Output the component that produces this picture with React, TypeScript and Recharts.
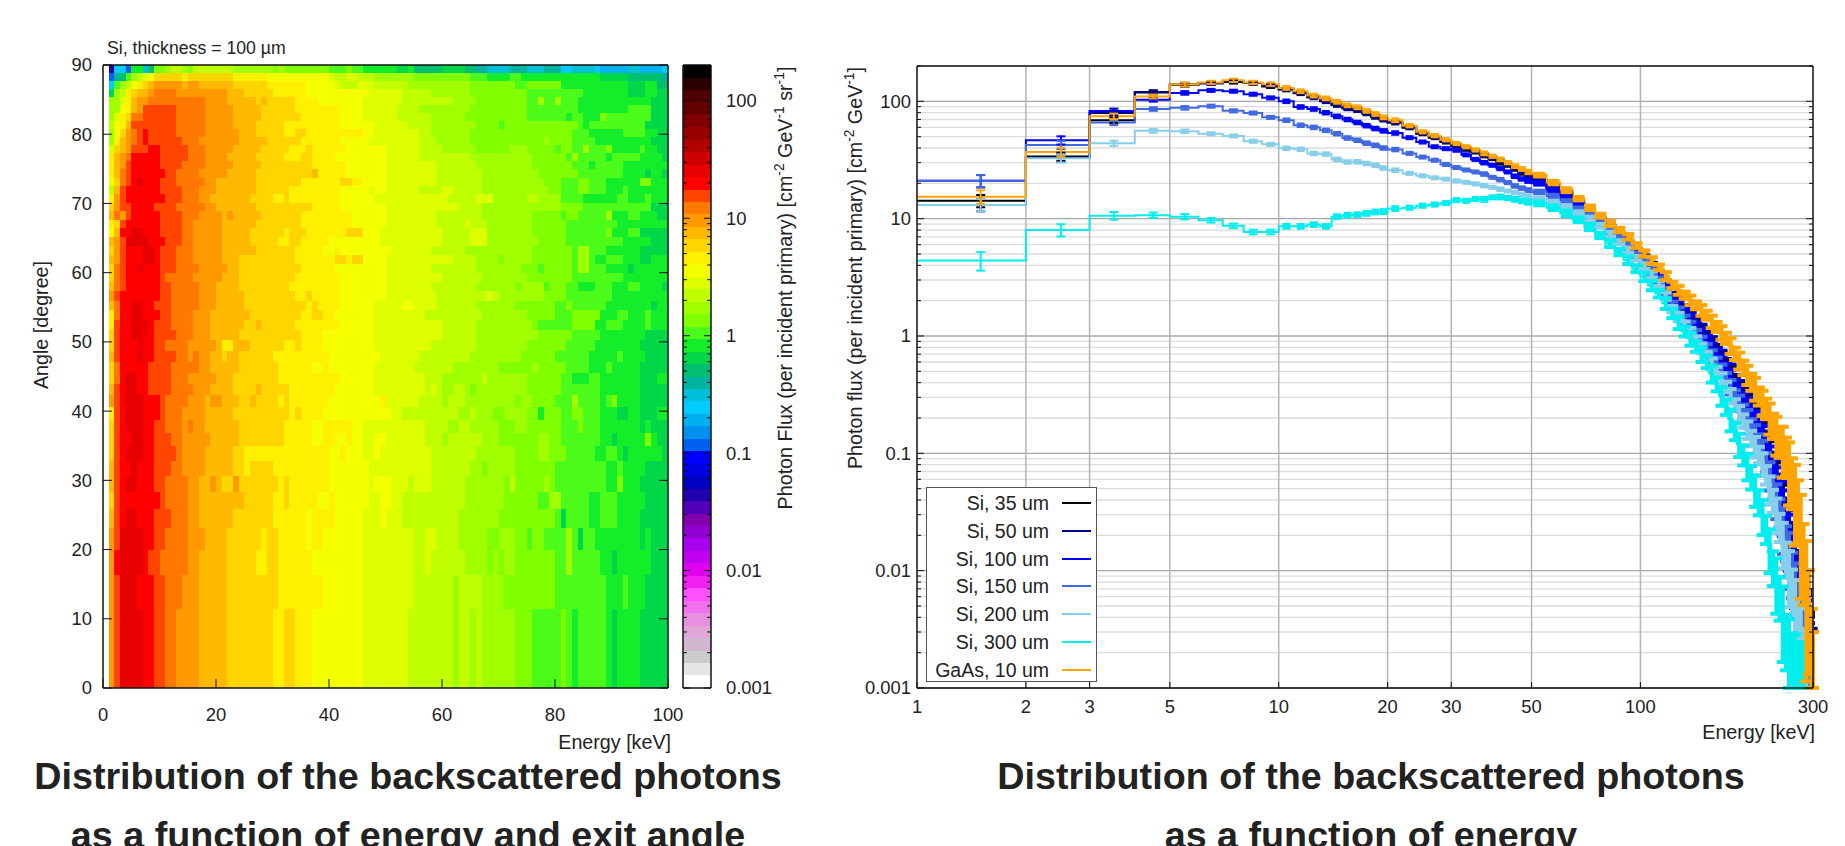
import React from 'react';
import { ComposedChart, Line, ErrorBar, XAxis, YAxis, ReferenceArea, ReferenceLine, Legend } from 'recharts';

// ---- left panel: 50 rows (equal solid angle), bottom to top, each row is [startEnergy, level, ...]
const angleEdges = [0, 11.48, 16.26, 19.95, 23.07, 25.84, 28.36, 30.68, 32.86, 34.92, 36.87, 38.74, 40.54, 42.27, 43.95, 45.57, 47.16, 48.7, 50.21, 51.68, 53.13, 54.55, 55.94, 57.32, 58.67, 60, 61.31, 62.61, 63.9, 65.16, 66.42, 67.67, 68.9, 70.12, 71.34, 72.54, 73.74, 74.93, 76.11, 77.29, 78.46, 79.63, 80.79, 81.95, 83.11, 84.26, 85.41, 86.56, 87.71, 88.85, 90];

const heatRows = [
  [0,0,1,37,2,39,3,41,7,40,9,39,11,38,13,37,17,36,22,35,30,34,32,35,34,34,37,33,46,32,54,31,62,30,63,31,65,30,66,31,67,30,73,29,76,28,81,29,82,28,83,27,84,28,89,27,90,26,91,27,95,26],
  [0,0,1,37,2,39,3,41,6,40,9,39,11,38,14,37,17,36,22,35,31,34,39,33,46,32,55,31,62,30,63,31,67,30,71,29,80,28,89,27,92,28,93,27,96,26],
  [0,0,1,37,2,40,3,41,7,40,8,39,10,38,15,37,17,36,22,35,27,34,29,35,31,34,37,33,46,32,55,31,57,32,58,31,64,30,68,29,69,30,70,29,71,30,73,29,80,28,82,30,83,28,88,27,90,26,91,27,97,26],
  [0,0,1,37,2,39,3,41,7,40,9,39,11,38,15,37,18,36,22,35,28,34,29,35,31,34,36,33,37,34,39,33,46,32,55,31,57,32,59,31,63,30,68,29,70,30,73,29,75,28,76,29,78,28,82,30,83,28,84,26,85,28,87,27,95,26,96,27,97,26],
  [0,0,1,36,2,39,3,40,4,41,6,40,9,39,12,38,15,37,17,36,23,35,30,34,36,33,37,34,41,33,46,32,49,33,50,32,53,31,63,30,70,29,80,28,81,26,82,28,86,27,88,28,91,27,95,26],
  [0,0,1,35,2,39,3,40,10,39,11,38,15,37,17,36,25,35,30,34,32,35,33,34,38,33,40,34,41,33,47,32,49,33,51,32,53,31,64,30,71,29,77,28,79,30,81,28,86,27,88,28,91,27,96,26],
  [0,0,1,36,2,39,3,40,4,41,6,40,9,39,11,38,15,37,17,36,19,37,20,36,21,35,23,37,24,35,31,34,32,35,33,34,40,33,47,32,48,33,51,32,54,31,55,32,58,31,64,30,71,29,72,31,73,29,78,30,79,29,80,28,89,27,91,29,92,27,95,26],
  [0,0,1,36,2,39,3,40,5,41,6,40,9,39,12,38,14,37,18,36,23,35,25,34,26,35,30,34,40,33,47,32,58,31,65,30,67,29,68,30,73,29,80,28,89,27,91,28,92,27,96,26],
  [0,0,1,35,2,39,3,40,4,41,7,40,9,39,13,38,14,37,18,36,23,35,25,34,40,33,42,34,43,33,46,32,48,33,49,32,58,31,66,30,73,29,77,30,79,29,82,28,87,27,89,28,91,27,92,26,93,27,99,26],
  [0,0,1,35,2,39,3,40,5,41,7,40,9,39,12,38,14,37,19,36,24,35,32,34,37,33,39,34,41,33,43,34,44,33,46,32,48,33,50,32,57,31,60,30,61,31,67,30,70,29,77,30,79,29,81,28,88,27,90,26,91,27,96,29,97,27,98,26],
  [0,0,1,35,2,39,3,40,4,41,7,40,9,39,11,38,14,37,15,38,16,37,18,36,24,35,32,34,37,33,39,34,44,33,46,32,57,31,61,30,63,31,65,30,70,29,73,30,75,29,81,28,84,29,85,28,88,27,95,26,96,27,97,26],
  [0,0,1,34,2,39,3,40,4,41,7,40,10,39,11,38,14,37,18,36,23,35,33,34,34,35,35,34,39,33,51,32,53,31,63,30,65,31,66,30,69,29,71,30,75,29,77,27,78,29,81,28,83,29,85,28,88,27,91,26,93,27,95,26,98,27],
  [0,0,1,37,2,39,3,40,4,41,7,40,10,39,11,38,15,37,18,36,19,37,21,36,24,35,26,36,27,35,31,34,32,35,33,34,40,33,49,34,50,32,56,31,60,30,61,31,64,30,73,29,74,30,76,29,80,28,83,30,84,28,88,27,89,28,90,29,91,27,95,26],
  [0,0,1,36,2,39,3,40,4,41,6,40,8,39,12,38,16,37,19,36,23,35,27,36,28,35,33,34,41,33,48,32,57,31,58,32,59,31,60,30,62,31,64,30,65,29,66,30,75,29,81,28,88,27,95,26],
  [0,0,1,35,2,38,3,40,4,41,6,40,8,39,12,38,15,37,20,36,23,35,31,34,42,33,48,32,57,31,60,30,67,31,68,30,75,29,81,28,83,27,86,28,88,27,95,26,98,27],
  [0,0,1,35,2,38,3,40,8,39,12,38,17,37,19,36,24,35,31,34,37,33,39,34,40,33,48,32,55,31,62,30,70,29,76,30,77,29,82,28,86,27,89,28,90,27,95,26],
  [0,0,1,36,2,39,3,40,6,41,7,40,9,39,13,38,15,37,16,38,17,37,19,36,21,35,22,36,24,35,30,34,40,33,49,32,56,31,65,30,74,29,80,28,86,27,91,28,92,27,96,26],
  [0,0,1,35,2,39,3,40,6,41,7,40,9,39,11,38,15,37,20,36,21,34,23,36,26,35,32,34,34,35,35,34,39,33,48,32,58,31,66,30,75,29,82,28,87,27,95,26],
  [0,0,1,35,2,39,3,40,5,41,7,40,9,39,13,38,16,37,19,36,24,35,35,34,39,33,48,32,60,31,66,30,77,29,83,28,88,27,96,26],
  [0,0,1,34,2,39,3,40,5,41,8,40,9,39,12,38,16,37,19,36,25,35,27,36,28,35,34,34,42,33,48,32,60,31,66,30,76,29,77,28,83,29,87,27,89,28,92,27,96,28,97,27],
  [0,0,1,34,2,38,3,40,5,41,7,40,10,39,12,38,16,37,19,36,26,35,35,34,37,35,39,34,41,33,48,32,57,31,67,30,75,29,80,28,83,29,88,27,91,28,93,27,96,28,97,27],
  [0,0,1,36,2,38,3,40,5,41,7,40,9,39,12,38,17,37,20,36,25,35,36,34,37,35,38,34,42,33,48,32,53,33,55,32,59,31,66,30,73,29,80,28,82,29,83,28,89,27,97,26,98,27],
  [0,0,1,37,2,39,3,40,10,39,12,38,17,37,20,36,25,35,34,34,36,35,37,34,42,33,50,32,59,31,68,32,69,31,70,30,78,29,82,28,90,27],
  [0,0,1,36,2,38,3,39,4,40,10,39,12,38,17,37,20,36,24,35,33,34,42,33,50,32,58,31,66,30,73,29,74,30,78,28,79,29,82,28,84,27,87,28,90,27,93,28,95,27,99,26],
  [0,0,1,35,2,38,3,39,4,40,10,39,11,38,16,37,21,36,24,35,34,34,42,33,50,32,60,31,67,30,75,29,83,28,92,27],
  [0,0,1,35,2,38,3,39,4,40,6,41,7,40,10,39,13,38,17,37,22,36,24,35,35,34,41,33,50,32,58,31,66,30,74,29,77,28,78,29,83,28,84,30,86,28,89,27,93,26,94,27],
  [0,0,1,36,2,37,3,39,4,40,7,41,9,40,10,39,13,38,16,37,21,36,24,35,34,34,41,35,43,34,44,35,46,33,50,32,62,31,66,30,70,29,71,30,76,29,83,28,84,30,86,28,87,27,89,28,92,27,95,26,97,27],
  [0,0,1,35,2,37,3,39,4,40,7,41,9,40,10,39,13,38,16,37,21,36,27,35,34,34,39,33,41,34,42,33,51,32,58,31,64,30,76,29,83,28,84,30,86,28,89,27,95,26],
  [0,0,1,36,2,37,3,39,4,41,8,40,11,39,14,38,16,37,21,36,26,35,31,34,33,35,35,34,40,33,49,32,60,31,65,32,68,30,77,29,82,28,92,27,97,26],
  [0,0,1,33,2,36,3,40,5,41,7,40,10,39,14,38,16,37,21,36,26,35,32,34,33,35,36,34,43,35,46,33,49,32,60,31,65,32,68,30,76,29,82,28,89,29,90,27,93,28,95,26],
  [0,0,1,34,2,35,3,39,4,40,10,39,14,38,16,37,21,36,27,35,35,34,44,33,50,32,59,31,64,32,65,31,68,30,76,29,82,28,91,27],
  [0,0,1,36,2,38,3,37,4,39,5,40,10,39,14,38,17,37,21,36,22,37,23,36,28,35,35,34,44,33,50,32,59,31,67,30,76,29,81,28,82,29,84,28,89,30,90,27,93,28,95,27,98,26],
  [0,0,1,35,2,37,3,39,5,40,9,39,13,38,18,37,20,36,27,35,37,34,42,33,50,32,63,31,67,30,81,29,85,28,97,26],
  [0,0,1,34,2,37,3,39,4,40,11,39,14,38,17,37,19,36,26,35,30,34,32,35,33,34,42,33,48,32,61,31,66,32,69,30,75,31,77,30,81,28,85,27,91,28,93,27,96,28,97,27],
  [0,0,1,31,2,36,3,39,4,40,10,39,14,38,17,37,20,36,27,35,33,34,42,33,47,32,48,33,50,32,56,31,60,32,62,31,67,30,79,29,81,28,84,29,86,28,89,27,92,28,93,27],
  [0,0,1,33,2,35,3,38,4,39,5,40,6,41,7,40,10,39,13,38,18,37,20,36,27,35,35,34,42,35,44,34,46,33,50,32,59,31,67,30,78,29,81,28,84,29,86,28,89,27,95,29,97,27],
  [0,0,1,34,2,36,3,38,4,39,5,40,11,39,13,38,17,37,22,36,27,35,37,36,38,34,43,33,50,32,59,31,67,30,77,29,84,28,92,27,96,26,97,27,99,26],
  [0,0,1,34,2,36,3,37,4,39,5,40,10,39,14,38,18,37,23,36,28,35,37,34,43,33,50,32,59,31,66,30,76,29,83,28,86,27,87,28,92,27],
  [0,0,1,34,2,36,3,37,4,38,5,40,10,39,15,38,18,37,22,36,27,35,32,34,35,35,37,34,41,33,50,32,56,31,65,30,76,29,82,28,83,30,84,28,89,27,90,28,95,27,99,26],
  [0,0,1,32,2,35,3,36,4,37,5,39,8,40,10,39,15,38,18,37,23,36,28,35,33,34,36,35,37,34,43,33,50,32,56,31,60,30,66,29,72,30,75,29,80,28,81,29,83,28,85,30,86,28,89,29,90,27,95,28,96,27,98,26],
  [0,0,1,30,2,34,3,36,4,37,5,38,6,39,7,40,8,39,14,38,17,37,24,36,29,35,35,34,42,33,47,32,56,31,59,30,65,29,78,30,79,29,83,28,87,27,97,26],
  [0,0,1,30,2,33,3,35,4,37,5,38,6,39,7,40,8,39,13,38,18,37,24,36,27,35,32,34,34,35,36,34,46,33,48,32,56,31,58,30,65,29,83,28,86,27,92,28,96,27,98,26],
  [0,0,1,31,2,33,3,34,4,36,5,39,13,38,18,37,23,36,27,35,32,34,42,33,48,32,54,31,58,30,66,29,70,28,71,29,84,28,85,27,86,28,96,26],
  [0,0,1,30,2,32,3,34,4,35,5,38,7,39,13,38,18,37,23,36,28,35,35,34,42,33,46,32,52,31,58,30,64,29,75,28,82,27,83,28,85,27,88,29,89,28,97,26],
  [0,0,1,30,3,33,4,34,5,36,6,37,7,39,13,38,18,37,23,36,28,35,34,34,42,33,46,32,52,31,56,30,65,29,75,28,84,27,93,28,97,26],
  [0,0,1,30,3,32,4,34,5,36,6,37,8,38,18,37,22,36,27,35,28,36,29,35,34,34,38,33,46,32,53,31,62,30,66,29,75,28,77,30,78,28,80,30,81,28,84,27,97,26],
  [0,0,1,26,2,30,3,31,4,34,5,35,6,36,8,37,9,38,13,37,22,36,25,35,30,34,36,33,47,32,53,31,58,30,65,29,75,28,85,27,93,26,96,27,98,26],
  [0,0,1,22,2,28,3,30,4,31,5,33,6,34,7,35,8,36,9,37,14,36,15,37,17,36,23,35,29,34,36,33,41,32,42,31,45,32,48,31,54,30,65,29,73,28,75,29,81,27,93,26,96,27,98,25],
  [0,0,1,19,2,24,3,25,4,28,5,30,6,31,7,32,8,33,9,35,14,34,15,35,23,34,29,33,40,32,41,31,43,32,45,31,48,30,55,29,65,28,68,27,72,28,74,27,88,26,93,25,99,24],
  [0,0,1,15,2,22,4,19,5,27,7,23,8,25,9,29,11,30,12,31,14,30,15,29,16,31,23,30,30,29,31,30,32,29,40,28,43,29,44,28,46,27,52,26,54,27,55,25,60,26,64,25,66,24,68,23,72,24,75,23,78,24,81,22,83,23,87,22,88,21,93,23,95,21,99,22],
];

const levelEdges = [0.001, 0.00128, 0.00163, 0.00208, 0.00266, 0.00339, 0.00433, 0.00553, 0.00706, 0.00902, 0.0115, 0.0147, 0.0188, 0.024, 0.0306, 0.0391, 0.0499, 0.0637, 0.0813, 0.104, 0.133, 0.169, 0.216, 0.276, 0.352, 0.449, 0.574, 0.733, 0.935, 1.19, 1.52, 1.95, 2.48, 3.17, 4.05, 5.17, 6.6, 8.43, 10.8, 13.7, 17.5, 22.4, 28.6, 36.5, 46.6, 59.4, 75.9, 96.9, 124, 158, 202];
const levelColors = ['#ffffff', '#e6e6e6', '#cccccc', '#d0b8d0', '#e0a8d8', '#e890e0', '#f070f0', '#ff50ff', '#f020f0', '#e000f0', '#c000f0', '#a800f0', '#9000d0', '#8000b0', '#5000b8', '#2000b0', '#0000c0', '#0000e0', '#0000ff', '#0060f0', '#0090f0', '#00b0f0', '#00ccff', '#00c0d8', '#00b4a0', '#00c070', '#00d84a', '#14ee2a', '#4cfb19', '#7fff00', '#a0ff00', '#c0ff00', '#ddff00', '#f4ff00', '#fff000', '#ffd500', '#ffb900', '#ff9900', '#ff7800', '#ff4500', '#ff0000', '#e60000', '#cc0000', '#b00000', '#990000', '#800000', '#650000', '#500000', '#2a0000', '#000000'];

const heatXTicks = [0, 20, 40, 60, 80, 100];
const heatYTicks = [0, 10, 20, 30, 40, 50, 60, 70, 80, 90];
const barMajor = [0.001, 0.01, 0.1, 1, 10, 100];
const barMinor = [0.002, 0.003, 0.004, 0.005, 0.006, 0.007, 0.008, 0.009, 0.02, 0.03, 0.04, 0.05, 0.06, 0.07, 0.08, 0.09, 0.2, 0.3, 0.4, 0.5, 0.6, 0.7, 0.8, 0.9, 2, 3, 4, 5, 6, 7, 8, 9, 20, 30, 40, 50, 60, 70, 80, 90, 200];

// ---- right panel: lower edge of each energy bin and the flux read per bin
const energies = [1, 2, 3, 4, 5, 6, 7, 8, 9, 10, 11, 12, 13, 14, 15, 16, 17, 18, 19, 20, 22, 24, 26, 28, 30, 32, 34, 36, 38, 40, 42, 44, 46, 48, 50, 55, 60, 65, 70, 75, 80, 85, 90, 95, 100, 105, 110, 115, 120, 125, 130, 135, 140, 145, 150, 155, 160, 165, 170, 175, 180, 185, 190, 195, 200, 205, 210, 215, 220, 225, 230, 235, 240, 245, 250, 255, 260, 265, 270, 275, 280, 285, 290, 295, 300];

const si35 = [14.2, 33.8, 69, 119, 139, 143, 146, 143, 134, 126, 117, 109, 101, 94, 88, 85, 79, 74, 70, 66, 59.5, 53, 49, 45, 41.5, 39, 37, 34.5, 32.5, 30, 28.5, 26.5, 24.5, 22.5, 21.5, 18.3, 16, 13.4, 11.2, 9.6, 8.2, 7.1, 6.1, 5.2, 4.55, 3.85, 3.3, 2.7, 2.15, 1.95, 1.68, 1.47, 1.3, 1.1, 0.98, 0.85, 0.75, 0.65, 0.56, 0.48, 0.41, 0.35, 0.31, 0.27, 0.235, 0.2, 0.175, 0.15, 0.125, 0.1, 0.079, 0.063, 0.05, 0.038, 0.029, 0.022, 0.017, 0.012, 0.0091, 0.0067, 0.005, 0.0035, 0.0024, 0.0016, null];
const si50 = [13.1, 33, 79.5, 120, 138, 142, 148, 143, 136, 127, 118, 108, 100, 93, 87, 84, 79, 74, 70, 66, 60, 53.5, 49.5, 45.5, 42, 39.5, 37.5, 35, 33, 31, 29, 27, 25, 23, 21, 18.5, 16.4, 13.6, 11.3, 9.7, 8.3, 7.2, 6.2, 5.3, 4.6, 3.95, 3.35, 2.75, 2.2, 1.98, 1.72, 1.5, 1.32, 1.14, 1.0, 0.88, 0.77, 0.67, 0.58, 0.5, 0.42, 0.36, 0.32, 0.28, 0.245, 0.21, 0.18, 0.155, 0.13, 0.105, 0.083, 0.066, 0.052, 0.04, 0.031, 0.024, 0.018, 0.013, 0.0098, 0.0072, 0.0054, 0.0038, 0.0026, 0.0017, null];
const si100 = [21, 46.6, 82.6, 103, 118, 124, 122, 115, 107, 100, 89.5, 86, 80, 74.5, 70, 66, 62, 58.6, 56, 53.7, 49, 45, 41, 39.5, 38.3, 35, 32, 30, 28.5, 26.8, 25, 23, 21.8, 21, 20, 17.5, 15.3, 13.2, 11.2, 9.5, 8.2, 7, 6, 5.1, 4.4, 3.75, 3.2, 2.6, 2.05, 1.85, 1.6, 1.4, 1.22, 1.05, 0.93, 0.81, 0.71, 0.61, 0.53, 0.45, 0.38, 0.33, 0.29, 0.25, 0.22, 0.19, 0.165, 0.14, 0.115, 0.09, 0.072, 0.057, 0.045, 0.034, 0.026, 0.02, 0.015, 0.0105, 0.0079, 0.0058, 0.0044, 0.0031, 0.0021, null, null];
const si150 = [21, 42.5, 66, 86, 88, 91, 83, 79.5, 73, 69, 62.5, 60, 56.6, 53, 48.7, 46.6, 44, 42.2, 40, 38.8, 36, 33.5, 31.5, 29, 27.3, 26, 25, 24, 22.5, 21.5, 20.3, 19, 18.2, 17.5, 16.9, 15.5, 13.9, 12.1, 10.7, 9.2, 7.9, 6.8, 5.8, 4.9, 4.25, 3.6, 3, 2.4, 1.85, 1.62, 1.4, 1.22, 1.05, 0.9, 0.79, 0.68, 0.6, 0.51, 0.44, 0.37, 0.31, 0.27, 0.23, 0.2, 0.17, 0.145, 0.125, 0.105, 0.085, 0.066, 0.052, 0.041, 0.032, 0.024, 0.018, 0.014, 0.01, 0.0072, 0.0052, 0.0038, 0.0028, 0.002, 0.0014, null, null];
const si200 = [13.1, 32.7, 44, 56, 55.6, 53, 50.7, 45.7, 43, 39.8, 39, 36, 35.5, 32, 30.4, 30.5, 29.5, 28.5, 27, 25.9, 24.3, 23.2, 22.3, 21.7, 21, 20.4, 19.8, 19.1, 18.5, 17.8, 17.2, 16.7, 16.1, 15.4, 14.8, 13.8, 12.6, 11.2, 10, 8.7, 7.4, 6.3, 5.4, 4.6, 3.95, 3.35, 2.8, 2.2, 1.7, 1.46, 1.25, 1.08, 0.93, 0.79, 0.68, 0.58, 0.5, 0.43, 0.37, 0.31, 0.26, 0.22, 0.19, 0.16, 0.135, 0.115, 0.098, 0.082, 0.066, 0.05, 0.04, 0.031, 0.024, 0.018, 0.013, 0.0098, 0.0072, 0.0052, 0.0038, 0.0028, 0.002, 0.0014, null, null, null];
const si300 = [4.4, 8, 10.6, 10.7, 10.4, 9.7, 8.7, 7.7, 7.7, 8.6, 8.6, 8.9, 8.6, 10.4, 10.7, 10.8, 11.1, 11.4, 11.5, 12.2, 12.4, 12.9, 13.2, 13.6, 14.4, 14.2, 14.7, 14.6, 15.2, 15.3, 15, 14.6, 14.2, 13.9, 13.5, 12.4, 11.1, 9.8, 8.5, 7.2, 6.15, 5.2, 4.43, 3.75, 3.2, 2.7, 2.3, 1.9, 1.56, 1.3, 1.1, 0.95, 0.82, 0.7, 0.605, 0.48, 0.39, 0.31, 0.25, 0.195, 0.155, 0.12, 0.098, 0.079, 0.0635, 0.05, 0.039, 0.03, 0.0231, 0.016, 0.011, 0.0085, 0.0063, 0.0045, 0.0028, 0.0022, 0.0018, 0.0015, 0.0013, 0.0012, 0.0011, null, null, null, null];
const gaas10 = [15.4, 37, 74.5, 110, 139, 145, 151, 145, 140, 130, 122, 112, 106, 99, 92.5, 89, 83, 78, 73, 69, 62, 55, 51, 47, 43.7, 41, 38.5, 36, 34, 32, 30, 28, 26.5, 25, 23.5, 20.3, 17.5, 14.8, 12.4, 10.6, 9.1, 8, 7, 5.9, 5.06, 4.4, 3.85, 3.25, 2.72, 2.46, 2.23, 2.02, 1.83, 1.66, 1.51, 1.33, 1.2, 1.07, 0.96, 0.83, 0.71, 0.62, 0.54, 0.47, 0.408, 0.36, 0.31, 0.275, 0.244, 0.205, 0.175, 0.15, 0.13, 0.115, 0.1, 0.08, 0.062, 0.048, 0.038, 0.025, 0.015, 0.0095, 0.0057, 0.0024, 0.0016];

// relative statistical error read per bin (half height of the error bars)
const relErr = [0.12, 0.08, 0.05, 0.035, 0.035, 0.03, 0.03, 0.03, 0.03, 0.025, 0.025, 0.025, 0.025, 0.025, 0.025, 0.025, 0.025, 0.025, 0.025, 0.025, 0.02, 0.02, 0.02, 0.02, 0.02, 0.02, 0.02, 0.025, 0.02, 0.025, 0.02, 0.025, 0.025, 0.03, 0.025, 0.03, 0.035, 0.03, 0.04, 0.035, 0.045, 0.04, 0.05, 0.045, 0.055, 0.06, 0.05, 0.07, 0.06, 0.08, 0.065, 0.085, 0.07, 0.095, 0.08, 0.11, 0.09, 0.12, 0.1, 0.14, 0.11, 0.15, 0.13, 0.17, 0.15, 0.2, 0.16, 0.22, 0.18, 0.27, 0.22, 0.33, 0.27, 0.42, 0.33, 0.5, 0.42, 0.6, 0.5, 0.7, 0.6, 0.8, 0.7, 0.88, 0.8];

const seriesNames = ['Si, 35 um', 'Si, 50 um', 'Si, 100 um', 'Si, 150 um', 'Si, 200 um', 'Si, 300 um', 'GaAs, 10 um'];
const seriesValues = [si35, si50, si100, si150, si200, si300, gaas10];
const seriesColors = ['#000000', '#00008b', '#0000ff', '#4169e1', '#87ceeb', '#00eeee', '#ffa500'];
const seriesErrScale = [1, 1, 1, 1, 1, 1.5, 1.1];

// error bars get heavier with energy: [from, to, cap half width, stroke]
const errorBands = [
  [1, 10, 4.5, 2],
  [10, 50, 4, 3],
  [50, 301, 6, 4],
];

const energyTicks = [1, 2, 3, 5, 10, 20, 30, 50, 100, 300];
const gridEnergies = [2, 3, 5, 10, 20, 30, 50, 100];
const fluxMajor = [0.001, 0.01, 0.1, 1, 10, 100];
const fluxMinor = [0.002, 0.003, 0.004, 0.005, 0.006, 0.007, 0.008, 0.009, 0.02, 0.03, 0.04, 0.05, 0.06, 0.07, 0.08, 0.09, 0.2, 0.3, 0.4, 0.5, 0.6, 0.7, 0.8, 0.9, 2, 3, 4, 5, 6, 7, 8, 9, 20, 30, 40, 50, 60, 70, 80, 90, 200];

const FONT = '"Liberation Sans", Arial, sans-serif';
const TICK_FONT = 18.4;
const LABEL_FONT = 19.7;
const FLUX_MIN = 0.001;

type Side = 'left' | 'right' | 'bottom' | 'top';

// inward tick marks, recharts only draws them outward
const inwardTick = (side: Side, majors: number[], majorLen: number, minorLen: number, gap: number | null) => (p: any) => {
  const v = p.payload.value;
  const major = majors.includes(v);
  const len = major ? majorLen : minorLen;
  const dx = side === 'left' ? len : side === 'right' ? -len : 0;
  const dy = side === 'bottom' ? -len : side === 'top' ? len : 0;
  let label = null;
  if (major && gap !== null) {
    const tx = side === 'left' ? p.x - gap : side === 'right' ? p.x + gap : p.x;
    const ty = side === 'bottom' ? p.y + gap : p.y;
    const anchor = side === 'left' ? 'end' : side === 'right' ? 'start' : 'middle';
    label = (
      <text x={tx} y={ty} dy="0.35em" textAnchor={anchor} fontSize={TICK_FONT} fontFamily={FONT} fill="#222">
        {String(v)}
      </text>
    );
  }
  return (
    <g>
      <line x1={p.x} y1={p.y} x2={p.x + dx} y2={p.y + dy} stroke="#111" strokeWidth={1} />
      {label}
    </g>
  );
};

const axisLine = { stroke: '#111', strokeWidth: 1.5 };
const noTick = () => <g />;

const HeatChart = () => {
  const areas: React.ReactNode[] = [];
  heatRows.forEach((row, k) => {
    for (let i = 0; i < row.length; i += 2) {
      const end = i + 2 < row.length ? row[i + 2] : 100;
      areas.push(
        <ReferenceArea
          key={`${k}-${i}`}
          x1={row[i]}
          x2={end}
          y1={angleEdges[k]}
          y2={angleEdges[k + 1]}
          fill={levelColors[row[i + 1]]}
          fillOpacity={1}
          stroke="none"
        />
      );
    }
  });
  return (
    <ComposedChart width={700} height={740} margin={{ top: 64, right: 31, bottom: 51, left: 102 }} data={[]}>
      {areas}
      <XAxis type="number" dataKey="x" domain={[0, 100]} ticks={heatXTicks} interval={0} height={1} axisLine={axisLine} tickLine={false} tickSize={0} tickMargin={0} allowDataOverflow tick={inwardTick('bottom', heatXTicks, 9, 9, 27)} />
      <XAxis xAxisId="top" orientation="top" type="number" domain={[0, 100]} ticks={heatXTicks} interval={0} height={1} axisLine={axisLine} tickLine={false} tickSize={0} tickMargin={0} allowDataOverflow tick={inwardTick('top', heatXTicks, 9, 9, null)} />
      <YAxis type="number" domain={[0, 90]} ticks={heatYTicks} interval={0} width={1} axisLine={axisLine} tickLine={false} tickSize={0} tickMargin={0} allowDataOverflow tick={inwardTick('left', heatYTicks, 9, 9, 11)} />
      <YAxis yAxisId="right" orientation="right" type="number" domain={[0, 90]} ticks={heatYTicks} interval={0} width={1} axisLine={axisLine} tickLine={false} tickSize={0} tickMargin={0} allowDataOverflow tick={inwardTick('right', heatYTicks, 9, 9, null)} />
    </ComposedChart>
  );
};

const ColorBar = () => {
  const ticks = [...barMajor, ...barMinor];
  return (
    <ComposedChart width={110} height={740} margin={{ top: 64, right: 68, bottom: 51, left: 12 }} data={[]}>
      {levelColors.map((c, i) => (
        <ReferenceArea key={i} x1={0} x2={1} y1={levelEdges[i]} y2={levelEdges[i + 1]} fill={c} fillOpacity={1} stroke="none" ifOverflow="visible" />
      ))}
      <XAxis type="number" dataKey="x" domain={[0, 1]} ticks={[0, 1]} interval={0} height={1} axisLine={axisLine} tickLine={false} tickSize={0} tickMargin={0} allowDataOverflow tick={noTick} />
      <XAxis xAxisId="top" orientation="top" type="number" domain={[0, 1]} ticks={[0, 1]} interval={0} height={1} axisLine={axisLine} tickLine={false} tickSize={0} tickMargin={0} allowDataOverflow tick={noTick} />
      <YAxis type="number" scale="log" domain={[0.001, 202]} ticks={ticks} interval={0} width={1} axisLine={axisLine} tickLine={false} tickSize={0} tickMargin={0} allowDataOverflow tick={inwardTick('left', barMajor, 7, 4, null)} />
      <YAxis yAxisId="right" orientation="right" type="number" scale="log" domain={[0.001, 202]} ticks={ticks} interval={0} width={1} axisLine={axisLine} tickLine={false} tickSize={0} tickMargin={0} allowDataOverflow tick={inwardTick('right', barMajor, 7, 4, 15)} />
    </ComposedChart>
  );
};

const binRows = (values: (number | null)[]) =>
  energies.map((x, i) => ({ x, y: values[i] }));

// error bars sit at the bin centre and stop at the frame
const errorRows = (values: (number | null)[], scale: number, from: number, to: number) =>
  energies
    .map((e, i) => {
      const next = i + 1 < energies.length ? energies[i + 1] : e;
      const y = values[i];
      const d = y === null ? 0 : y * relErr[i] * scale;
      const low = y === null ? 0 : Math.min(d, y - FLUX_MIN * 1.001);
      return { e, x: e + (next - e) / 2, y, err: [low, d] };
    })
    .filter((r) => r.y !== null && r.e >= from && r.e < to);

const FluxLegend = () => (
  <div style={{ width: 171, height: 195, boxSizing: 'border-box', border: '1.5px solid #555', background: '#fff', position: 'relative' }}>
    {seriesNames.map((name, i) => (
      <div key={name} style={{ position: 'absolute', left: 0, top: 3 + i * 27.8, height: 24, width: 171, fontFamily: FONT, fontSize: 19.5, lineHeight: '24px', color: '#222' }}>
        <span style={{ position: 'absolute', right: 49, whiteSpace: 'nowrap' }}>{name}</span>
        <span style={{ position: 'absolute', left: 135, top: 11, width: 29, height: 2, background: seriesColors[i] }} />
      </div>
    ))}
  </div>
);

const FluxChart = () => {
  const yTicks = [...fluxMajor, ...fluxMinor];
  return (
    <ComposedChart width={1005} height={740} margin={{ top: 65, right: 31, bottom: 51, left: 76 }}>
      {fluxMinor.map((v) => (
        <ReferenceLine key={`m${v}`} y={v} stroke="#dcdcdc" strokeWidth={1.3} />
      ))}
      {fluxMajor.map((v) => (
        <ReferenceLine key={`M${v}`} y={v} stroke="#a8a8a8" strokeWidth={1.3} />
      ))}
      {gridEnergies.map((v) => (
        <ReferenceLine key={`x${v}`} x={v} stroke="#b4b4b4" strokeWidth={1.5} />
      ))}
      <XAxis type="number" dataKey="x" scale="log" domain={[1, 300]} ticks={energyTicks} interval={0} height={1} axisLine={axisLine} tickLine={false} tickSize={0} tickMargin={0} allowDataOverflow tick={inwardTick('bottom', energyTicks, 6, 6, 19)} />
      <XAxis xAxisId="top" orientation="top" type="number" scale="log" domain={[1, 300]} ticks={gridEnergies} interval={0} height={1} axisLine={axisLine} tickLine={false} tickSize={0} tickMargin={0} allowDataOverflow tick={inwardTick('top', gridEnergies, 6, 6, null)} />
      <YAxis type="number" scale="log" domain={[0.001, 200]} ticks={yTicks} interval={0} width={1} axisLine={axisLine} tickLine={false} tickSize={0} tickMargin={0} allowDataOverflow tick={inwardTick('left', fluxMajor, 7, 4, 6)} />
      <YAxis yAxisId="right" orientation="right" type="number" scale="log" domain={[0.001, 200]} ticks={yTicks} interval={0} width={1} axisLine={axisLine} tickLine={false} tickSize={0} tickMargin={0} allowDataOverflow tick={inwardTick('right', fluxMajor, 7, 4, null)} />
      {seriesNames.map((name, i) => (
        <Line key={name} data={binRows(seriesValues[i])} dataKey="y" name={name} type="stepAfter" stroke={seriesColors[i]} strokeWidth={2} dot={false} activeDot={false} isAnimationActive={false} />
      ))}
      {errorBands.map(([from, to, cap, stroke]) =>
        seriesNames.map((name, i) => (
          <Line key={`${name} err ${from}`} data={errorRows(seriesValues[i], seriesErrScale[i], from, to)} dataKey="y" stroke="none" dot={false} activeDot={false} legendType="none" isAnimationActive={false}>
            <ErrorBar dataKey="err" direction="y" width={cap} strokeWidth={stroke} stroke={seriesColors[i]} isAnimationActive={false} />
          </Line>
        ))
      )}
      <Legend layout="vertical" align="center" verticalAlign="middle" content={() => <FluxLegend />} wrapperStyle={{ left: 86, top: 487, width: 171, height: 195 }} />
    </ComposedChart>
  );
};

const place = (left: number, top: number): React.CSSProperties => ({ position: 'absolute', left, top });

const RotatedLabel = ({ cx, cy, children }: { cx: number; cy: number; children: React.ReactNode }) => (
  <div style={{ position: 'absolute', left: cx, top: cy, transform: 'translate(-50%, -50%) rotate(-90deg)', fontFamily: FONT, fontSize: LABEL_FONT, color: '#222', whiteSpace: 'nowrap' }}>
    {children}
  </div>
);

const Sup = ({ children }: { children: React.ReactNode }) => (
  <sup style={{ fontSize: '0.7em', lineHeight: 0 }}>{children}</sup>
);

const Title = ({ cx, cy, text }: { cx: number; cy: number; text: string }) => (
  <div style={{ position: 'absolute', left: cx, top: cy, transform: 'translate(-50%, -50%)', fontFamily: FONT, fontWeight: 700, fontSize: 37.7, lineHeight: '40px', color: '#222', whiteSpace: 'nowrap' }}>
    {text}
  </div>
);

export default function App() {
  return (
    <div style={{ position: 'absolute', left: 0, top: 0, width: 1845, height: 846, overflow: 'hidden', background: '#fff' }}>
      <style>{'.recharts-reference-area-rect, .recharts-reference-area path { shape-rendering: crispEdges; }'}</style>
      <div style={place(0, 0)}><HeatChart /></div>
      <div style={place(670, 0)}><ColorBar /></div>
      <div style={place(840, 0)}><FluxChart /></div>

      <div style={{ ...place(107, 38), fontFamily: FONT, fontSize: 17.7, color: '#222', whiteSpace: 'nowrap' }}>Si, thickness = 100 µm</div>
      <RotatedLabel cx={41} cy={325}>Angle [degree]</RotatedLabel>
      <RotatedLabel cx={785} cy={288}>Photon Flux (per incident primary) [cm<Sup>-2</Sup> GeV<Sup>-1</Sup> sr<Sup>-1</Sup>]</RotatedLabel>
      <RotatedLabel cx={855} cy={268}>Photon flux (per incident primary) [cm<Sup>-2</Sup> GeV<Sup>-1</Sup>]</RotatedLabel>
      <div style={{ position: 'absolute', right: 1845 - 671, top: 731, fontFamily: FONT, fontSize: LABEL_FONT, color: '#222', whiteSpace: 'nowrap' }}>Energy [keV]</div>
      <div style={{ position: 'absolute', right: 1845 - 1815, top: 721, fontFamily: FONT, fontSize: LABEL_FONT, color: '#222', whiteSpace: 'nowrap' }}>Energy [keV]</div>

      <Title cx={408} cy={776} text="Distribution of the backscattered photons" />
      <Title cx={408} cy={835} text="as a function of energy and exit angle" />
      <Title cx={1371} cy={776} text="Distribution of the backscattered photons" />
      <Title cx={1371} cy={835} text="as a function of energy" />
    </div>
  );
}
